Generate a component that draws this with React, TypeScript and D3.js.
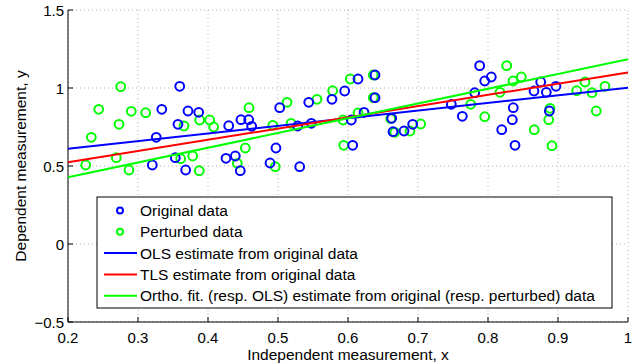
import React from "react";
import * as d3 from "d3";

const originalX = [0.3204,0.3261,0.334,0.3596,0.3714,0.3867,0.3571,0.4296,0.4471,0.4581,0.4624,0.3533,0.4257,0.439,0.3681,0.4461,0.5024,0.5439,0.5771,0.5953,0.5281,0.5476,0.4971,0.4886,0.531,0.6143,0.6386,0.6386,0.6047,0.6229,0.6624,0.6643,0.68,0.6924,0.6067,0.7881,0.7953,0.8047,0.781,0.7476,0.7633,0.8361,0.8347,0.8196,0.8386,0.8753,0.8657,0.8833,0.8971,0.8876];
const originalY = [0.5064,0.684,0.8635,1.011,0.8526,0.8442,0.7673,0.7583,0.7968,0.7968,0.7545,0.5532,0.5494,0.5641,0.4744,0.4699,0.8737,0.9083,0.9276,0.9808,0.7564,0.7737,0.6154,0.5192,0.4955,1.0577,1.0833,0.9378,0.7949,0.8442,0.8058,0.7199,0.7244,0.7673,0.6327,1.143,1.0449,1.0705,0.9699,0.8955,0.8186,0.8737,0.7968,0.7327,0.6327,1.0385,0.9808,0.9724,1.011,0.8526];
const perturbedX = [0.2753,0.2439,0.2904,0.311,0.2729,0.2333,0.269,0.2253,0.2871,0.3657,0.3881,0.4024,0.4081,0.4586,0.361,0.3781,0.3876,0.4533,0.4419,0.5781,0.5129,0.5557,0.4924,0.5186,0.5929,0.5939,0.4961,0.6033,0.6361,0.6361,0.6143,0.661,0.6667,0.6886,0.7039,0.8267,0.8357,0.8476,0.8171,0.7753,0.7953,0.9386,0.9267,0.9486,0.9671,0.8886,0.8867,0.9547,0.8661,0.8914];
const perturbedY = [1.0083,0.8635,0.8506,0.8417,0.7673,0.684,0.5532,0.5064,0.4744,0.7564,0.7949,0.7949,0.75,0.8737,0.5468,0.5641,0.4699,0.6154,0.5173,0.9827,0.9083,0.9276,0.7609,0.7737,0.7949,0.6327,0.4955,1.0577,1.0833,0.9378,0.8397,0.8032,0.716,0.7244,0.7692,1.143,1.0449,1.0705,0.9724,0.8955,0.816,1.0385,0.9827,0.9699,1.011,0.8699,0.7968,0.8526,0.7327,0.6301];

const lineX = [0.2, 1.0];
const olsY = [0.61, 1.002];
const tlsY = [0.524, 1.10];
const orthoY = [0.428, 1.184];

const xTicks = [0.2, 0.3, 0.4, 0.5, 0.6, 0.7, 0.8, 0.9, 1];
const yTicks = [-0.5, 0, 0.5, 1, 1.5];

const legendLabels = [
  "Original data",
  "Perturbed data",
  "OLS estimate from original data",
  "TLS estimate from original data",
  "Ortho. fit. (resp. OLS) estimate from original (resp. perturbed) data",
];

const BLUE = "#0000ff";
const GREEN = "#00ff00";
const RED = "#ff0000";
const FONT = "'Liberation Sans', Arial, Helvetica, sans-serif";

export default function App() {
  const W = 642, H = 363;
  const left = 68, right = 628, top = 10, bottom = 322;
  const x = d3.scaleLinear().domain([0.2, 1]).range([left, right]);
  const y = d3.scaleLinear().domain([-0.5, 1.5]).range([bottom, top]);
  const line = d3.line<[number, number]>().x(d => x(d[0])).y(d => y(d[1]));
  const fitLines = [
    { ys: olsY, color: BLUE },
    { ys: tlsY, color: RED },
    { ys: orthoY, color: GREEN },
  ];
  const fmt = (v: number) => (v < 0 ? "\u2212" + String(-v) : String(v));
  const r = 4.4;

  const legend = { x0: 97, y0: 197, x1: 612, y1: 308 };
  const rowY = (i: number) => 210.5 + i * 21.3;

  return (
    <div style={{ position: "absolute", left: 0, top: 0 }}>
      <svg width={W} height={H} style={{ display: "block", background: "#fff" }} fontFamily={FONT}>
        <rect width={W} height={H} fill="#fff" />
        {xTicks.map(t => (
          <line key={"gx" + t} x1={x(t)} x2={x(t)} y1={top} y2={bottom} stroke="#b0b0b0" strokeWidth={1} strokeDasharray="1,3" />
        ))}
        {yTicks.map(t => (
          <line key={"gy" + t} x1={left} x2={right} y1={y(t)} y2={y(t)} stroke="#b0b0b0" strokeWidth={1} strokeDasharray="1,3" />
        ))}
        <line x1={left} x2={left} y1={top} y2={bottom} stroke="#000" strokeWidth={1} />
        <line x1={left} x2={right} y1={bottom} y2={bottom} stroke="#000" strokeWidth={1} />
        {xTicks.map(t => (
          <g key={"tx" + t}>
            <line x1={x(t)} x2={x(t)} y1={bottom} y2={bottom - 5} stroke="#000" />
            <text x={x(t)} y={bottom + 15} textAnchor="middle" fontSize={15} dominantBaseline="central">{fmt(t)}</text>
          </g>
        ))}
        {yTicks.map(t => (
          <g key={"ty" + t}>
            <line x1={left} x2={left + 5} y1={y(t)} y2={y(t)} stroke="#000" />
            <text x={left - 4} y={y(t)} textAnchor="end" fontSize={15} dominantBaseline="central">{fmt(t)}</text>
          </g>
        ))}
        {perturbedX.map((v, i) => (
          <circle key={"p" + i} cx={x(v)} cy={y(perturbedY[i])} r={r} fill="none" stroke={GREEN} strokeWidth={2} />
        ))}
        {originalX.map((v, i) => (
          <circle key={"o" + i} cx={x(v)} cy={y(originalY[i])} r={r} fill="none" stroke={BLUE} strokeWidth={2} />
        ))}
        {fitLines.map((l, i) => (
          <path key={"l" + i} d={line(lineX.map((xv, j) => [xv, l.ys[j]] as [number, number])) || ""} fill="none" stroke={l.color} strokeWidth={2} />
        ))}
        <rect x={legend.x0} y={legend.y0} width={legend.x1 - legend.x0} height={legend.y1 - legend.y0} fill="#fff" stroke="#000" strokeWidth={1} />
        {legendLabels.map((lab, i) => (
          <g key={"lg" + i}>
            {i < 2 ? (
              <circle cx={120} cy={rowY(i)} r={3} fill="none" stroke={i === 0 ? BLUE : GREEN} strokeWidth={2} />
            ) : (
              <line x1={104} x2={137} y1={rowY(i)} y2={rowY(i)} stroke={[BLUE, RED, GREEN][i - 2]} strokeWidth={2} />
            )}
            <text x={140} y={rowY(i)} fontSize={15.5} dominantBaseline="central">{lab}</text>
          </g>
        ))}
        <text x={(left + right) / 2} y={354} textAnchor="middle" fontSize={15.5} dominantBaseline="central">Independent measurement, x</text>
        <text transform={`translate(20,${(top + bottom) / 2}) rotate(-90)`} textAnchor="middle" fontSize={15.5} dominantBaseline="central">Dependent measurement, y</text>
      </svg>
    </div>
  );
}
